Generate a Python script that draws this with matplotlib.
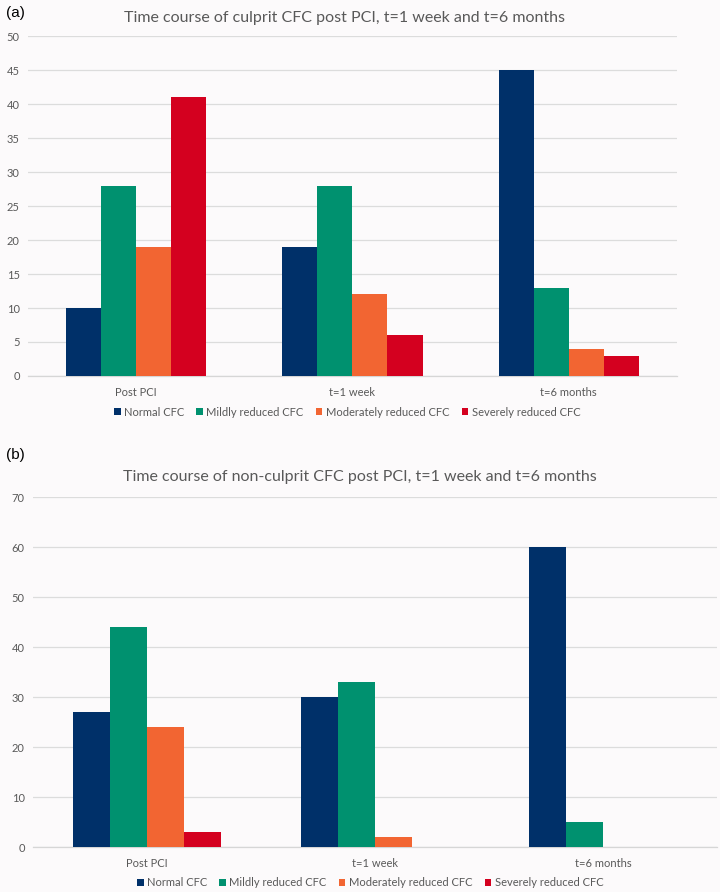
import numpy as np
import matplotlib.pyplot as plt

categories = ["Post PCI", "t=1 week", "t=6 months"]
series_names = ["Normal CFC", "Mildly reduced CFC", "Moderately reduced CFC", "Severely reduced CFC"]
colors = ["#003069", "#00916F", "#F26532", "#D4001F"]

# panel (a): culprit CFC
culprit_normal = [10, 19, 45]
culprit_mild = [28, 28, 13]
culprit_moderate = [19, 12, 4]
culprit_severe = [41, 6, 3]

# panel (b): non-culprit CFC
nonculprit_normal = [27, 30, 60]
nonculprit_mild = [44, 33, 5]
nonculprit_moderate = [24, 2, 0]
nonculprit_severe = [3, 0, 0]

bg = "#FCFAFB"
font = "Lato"

fig = plt.figure(figsize=(7.2, 8.92), dpi=100, facecolor=bg)


def draw_panel(ax, data, ymax, ystep, title_x, title_y, legend_x, legend_y):
    ax.set_facecolor(bg)
    x = np.arange(len(categories))
    w = 0.162
    for i, vals in enumerate(data):
        ax.bar(x + (i - 1.5) * w, vals, width=w, color=colors[i],
               label=series_names[i], zorder=3)
    ax.set_xlim(-0.5, len(categories) - 0.5)
    ax.set_ylim(0, ymax)
    ax.set_yticks(np.arange(0, ymax + 1, ystep))
    ax.yaxis.grid(True, color="#DCDCDC", linewidth=0.9, zorder=0)
    for s in ["top", "right", "left"]:
        ax.spines[s].set_visible(False)
    ax.spines["bottom"].set_color("#D6D6D6")
    ax.spines["bottom"].set_linewidth(0.9)
    ax.set_xticks(x)
    ax.set_xticklabels(categories, fontsize=8, color="#595959", family=font)
    ax.tick_params(axis="both", length=0, pad=8)
    ax.tick_params(axis="y", pad=6)
    for lab in ax.get_yticklabels():
        lab.set_fontsize(8)
        lab.set_color("#595959")
        lab.set_family(font)
    fig.text(title_x, title_y, ax.get_label(), ha="center", va="center",
             fontsize=11.5, color="#595959", family=font)
    leg = fig.legend(*ax.get_legend_handles_labels(), loc="center",
                     bbox_to_anchor=(legend_x, legend_y), ncol=4, frameon=False,
                     handlelength=0.6, handleheight=0.6,
                     handletextpad=0.3, columnspacing=1.1,
                     prop={"family": font, "size": 8})
    for t in leg.get_texts():
        t.set_color("#595959")


ax1 = fig.add_axes([0.039, 0.5785, 0.901, 0.381],
                   label="Time course of culprit CFC post PCI, t=1 week and t=6 months")
draw_panel(ax1, [culprit_normal, culprit_mild, culprit_moderate, culprit_severe],
           50, 5, 345 / 720, 1 - 18 / 892, 347 / 720, 1 - 412 / 892)

ax2 = fig.add_axes([0.046, 0.0504, 0.950, 0.3924],
                   label="Time course of non-culprit CFC post PCI, t=1 week and t=6 months")
draw_panel(ax2, [nonculprit_normal, nonculprit_mild, nonculprit_moderate, nonculprit_severe],
           70, 10, 360 / 720, 1 - 477 / 892, 370 / 720, 1 - 883 / 892)

fig.text(0.008, 1 - 13 / 892, "(a)", ha="left", va="center", fontsize=11,
         family="Liberation Sans")
fig.text(0.008, 1 - 455 / 892, "(b)", ha="left", va="center", fontsize=11,
         family="Liberation Sans")

fig.savefig("out.png", dpi=100, facecolor=bg)
